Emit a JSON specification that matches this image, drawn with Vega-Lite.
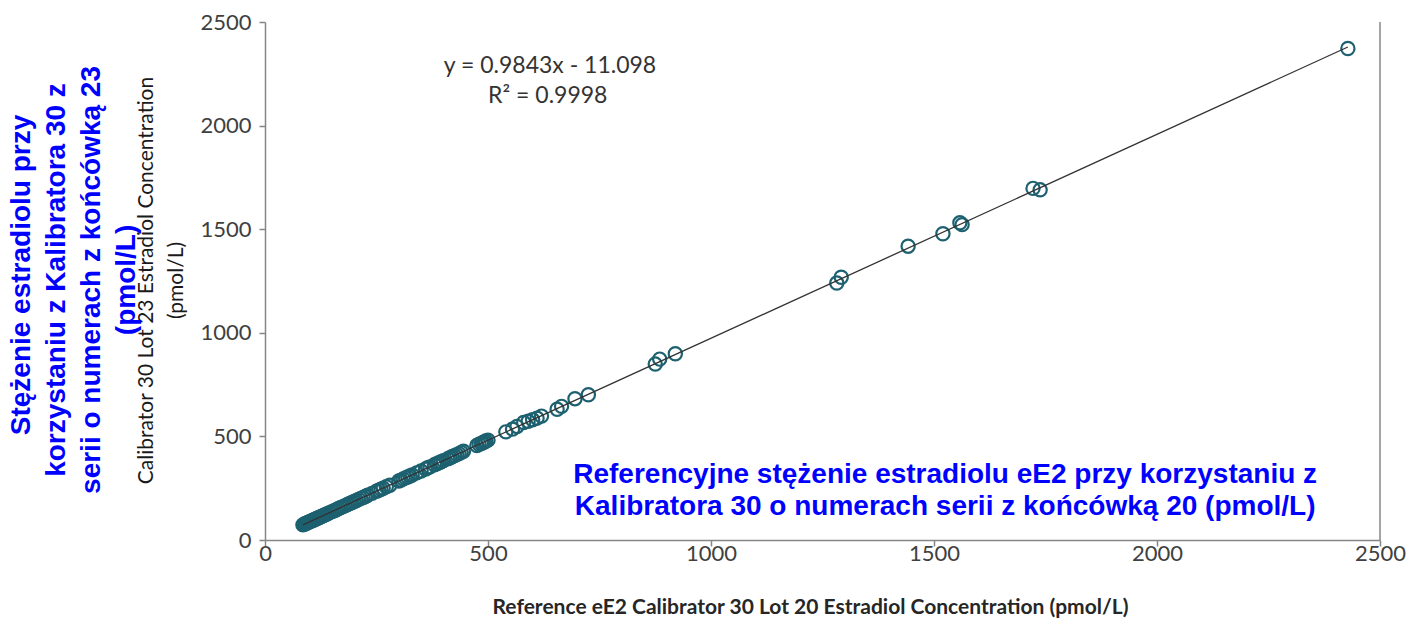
{
  "$schema": "https://vega.github.io/schema/vega-lite/v6.json",
  "width": 1115,
  "height": 518,
  "autosize": "none",
  "padding": {"left": 265, "top": 22, "right": 28, "bottom": 82},
  "background": "white",
  "config": {"view": {"stroke": null}},
  "datasets": {
    "pts": [
      {"ref": 85, "cal": 73}, {"ref": 88, "cal": 76}, {"ref": 90, "cal": 79}, {"ref": 92, "cal": 80},
      {"ref": 95, "cal": 83}, {"ref": 97, "cal": 85}, {"ref": 100, "cal": 88}, {"ref": 102, "cal": 90},
      {"ref": 105, "cal": 93}, {"ref": 108, "cal": 95}, {"ref": 110, "cal": 98}, {"ref": 113, "cal": 100},
      {"ref": 115, "cal": 103}, {"ref": 118, "cal": 105}, {"ref": 120, "cal": 108}, {"ref": 123, "cal": 110},
      {"ref": 126, "cal": 113}, {"ref": 130, "cal": 117}, {"ref": 133, "cal": 120}, {"ref": 136, "cal": 123},
      {"ref": 140, "cal": 127}, {"ref": 145, "cal": 132}, {"ref": 150, "cal": 137}, {"ref": 155, "cal": 141},
      {"ref": 160, "cal": 146}, {"ref": 165, "cal": 152}, {"ref": 170, "cal": 157}, {"ref": 175, "cal": 161},
      {"ref": 180, "cal": 166}, {"ref": 185, "cal": 171}, {"ref": 190, "cal": 176}, {"ref": 195, "cal": 181},
      {"ref": 200, "cal": 186}, {"ref": 205, "cal": 191}, {"ref": 210, "cal": 196}, {"ref": 215, "cal": 201},
      {"ref": 220, "cal": 205}, {"ref": 225, "cal": 210}, {"ref": 230, "cal": 216}, {"ref": 240, "cal": 225},
      {"ref": 250, "cal": 235}, {"ref": 255, "cal": 240}, {"ref": 260, "cal": 245}, {"ref": 265, "cal": 250},
      {"ref": 272, "cal": 257}, {"ref": 280, "cal": 264}, {"ref": 300, "cal": 285}, {"ref": 305, "cal": 289},
      {"ref": 310, "cal": 295}, {"ref": 315, "cal": 300}, {"ref": 320, "cal": 304}, {"ref": 325, "cal": 309},
      {"ref": 330, "cal": 314}, {"ref": 340, "cal": 324}, {"ref": 350, "cal": 333}, {"ref": 360, "cal": 343},
      {"ref": 365, "cal": 349}, {"ref": 370, "cal": 353}, {"ref": 380, "cal": 363}, {"ref": 385, "cal": 368},
      {"ref": 390, "cal": 373}, {"ref": 395, "cal": 378}, {"ref": 400, "cal": 383}, {"ref": 410, "cal": 392},
      {"ref": 415, "cal": 397}, {"ref": 420, "cal": 403}, {"ref": 425, "cal": 407}, {"ref": 430, "cal": 412},
      {"ref": 435, "cal": 417}, {"ref": 440, "cal": 423}, {"ref": 445, "cal": 428}, {"ref": 475, "cal": 456},
      {"ref": 480, "cal": 462}, {"ref": 485, "cal": 466}, {"ref": 488, "cal": 470}, {"ref": 492, "cal": 473},
      {"ref": 495, "cal": 478}, {"ref": 500, "cal": 482}, {"ref": 540, "cal": 522}, {"ref": 555, "cal": 535},
      {"ref": 565, "cal": 548}, {"ref": 580, "cal": 567}, {"ref": 590, "cal": 573}, {"ref": 600, "cal": 580},
      {"ref": 610, "cal": 588}, {"ref": 620, "cal": 598}, {"ref": 655, "cal": 631}, {"ref": 665, "cal": 645},
      {"ref": 695, "cal": 682}, {"ref": 725, "cal": 701}, {"ref": 875, "cal": 849}, {"ref": 885, "cal": 873},
      {"ref": 920, "cal": 899}, {"ref": 1282, "cal": 1240}, {"ref": 1292, "cal": 1268}, {"ref": 1442, "cal": 1418},
      {"ref": 1520, "cal": 1478}, {"ref": 1558, "cal": 1531}, {"ref": 1563, "cal": 1522}, {"ref": 1722, "cal": 1697},
      {"ref": 1738, "cal": 1690}, {"ref": 2428, "cal": 2372}
    ]
  },
  "layer": [
    {
      "data": {"name": "pts"},
      "mark": {"type": "point", "shape": "circle", "filled": false, "stroke": "#1d6170", "strokeWidth": 2.2, "size": 175, "opacity": 1},
      "encoding": {
        "x": {
          "field": "ref", "type": "quantitative",
          "scale": {"domain": [0, 2500], "nice": false, "zero": true},
          "axis": {
            "title": "Reference eE2 Calibrator 30 Lot 20 Estradiol Concentration (pmol/L)",
            "values": [0, 500, 1000, 1500, 2000, 2500],
            "format": "d",
            "grid": false,
            "domainColor": "#868686", "domainWidth": 1.5,
            "tickColor": "#868686", "tickWidth": 1.5, "tickSize": 6,
            "labelFont": "Lato", "labelFontSize": 22, "labelColor": "#404040", "labelPadding": -3,
            "labelFlush": false,
            "titleFont": "Lato", "titleFontSize": 21, "titleFontWeight": "bold", "titleColor": "#262626",
            "titleX": 545, "titleY": 67, "titleAlign": "center", "titleAnchor": null, "titleBaseline": "middle"
          }
        },
        "y": {
          "field": "cal", "type": "quantitative",
          "scale": {"domain": [0, 2500], "nice": false, "zero": true},
          "axis": {
            "title": ["Calibrator 30 Lot 23 Estradiol Concentration", "(pmol/L)"],
            "values": [0, 500, 1000, 1500, 2000, 2500],
            "format": "d",
            "grid": false,
            "domainColor": "#868686", "domainWidth": 1.5,
            "tickColor": "#868686", "tickWidth": 1.5, "tickSize": 6,
            "labelFont": "Lato", "labelFontSize": 22, "labelColor": "#404040", "labelPadding": 8,
            "labelFlush": false,
            "titleFont": "Lato", "titleFontSize": 21, "titleFontWeight": "normal", "titleColor": "#1a1a1a",
            "titleLineHeight": 30, "titleAngle": -90, "titleX": -119, "titleY": 258,
            "titleAlign": "center", "titleBaseline": "middle"
          }
        }
      }
    },
    {
      "data": {"name": "pts"},
      "transform": [{"regression": "cal", "on": "ref"}],
      "mark": {"type": "line", "color": "#333333", "strokeWidth": 1.3},
      "encoding": {
        "x": {"field": "ref", "type": "quantitative"},
        "y": {"field": "cal", "type": "quantitative"}
      }
    },
    {
      "data": {"values": [{}]},
      "mark": {"type": "rule", "color": "#868686", "strokeWidth": 1.5},
      "encoding": {"x": {"datum": 2500}}
    },
    {
      "data": {"values": [{"t": "y = 0.9843x - 11.098"}]},
      "mark": {"type": "text", "font": "Lato", "fontSize": 23, "color": "#333333", "align": "center", "baseline": "middle"},
      "encoding": {"x": {"datum": 639}, "y": {"datum": 2288}, "text": {"field": "t"}}
    },
    {
      "data": {"values": [{"t": "R² = 0.9998"}]},
      "mark": {"type": "text", "font": "Lato", "fontSize": 23, "color": "#333333", "align": "center", "baseline": "middle"},
      "encoding": {"x": {"datum": 634}, "y": {"datum": 2143}, "text": {"field": "t"}}
    },
    {
      "data": {"values": [{"t": "Referencyjne stężenie estradiolu eE2 przy korzystaniu z"}]},
      "mark": {"type": "text", "font": "Liberation Sans", "fontSize": 28, "fontWeight": "bold", "color": "#0000ff", "align": "center", "baseline": "middle"},
      "encoding": {"x": {"datum": 1525}, "y": {"datum": 314}, "text": {"field": "t"}}
    },
    {
      "data": {"values": [{"t": "Kalibratora 30 o numerach serii z końcówką 20 (pmol/L)"}]},
      "mark": {"type": "text", "font": "Liberation Sans", "fontSize": 28, "fontWeight": "bold", "color": "#0000ff", "align": "center", "baseline": "middle"},
      "encoding": {"x": {"datum": 1525}, "y": {"datum": 159}, "text": {"field": "t"}}
    },
    {
      "data": {"values": [{"t": "Stężenie estradiolu przy"}]},
      "mark": {"type": "text", "font": "Liberation Sans", "fontSize": 28, "fontWeight": "bold", "color": "#0000ff", "align": "center", "baseline": "middle", "angle": 270, "clip": false},
      "encoding": {"x": {"datum": -545}, "y": {"datum": 1279}, "text": {"field": "t"}}
    },
    {
      "data": {"values": [{"t": "korzystaniu z Kalibratora 30 z"}]},
      "mark": {"type": "text", "font": "Liberation Sans", "fontSize": 28, "fontWeight": "bold", "color": "#0000ff", "align": "center", "baseline": "middle", "angle": 270, "clip": false},
      "encoding": {"x": {"datum": -466}, "y": {"datum": 1255}, "text": {"field": "t"}}
    },
    {
      "data": {"values": [{"t": "serii o numerach z końcówką 23"}]},
      "mark": {"type": "text", "font": "Liberation Sans", "fontSize": 28, "fontWeight": "bold", "color": "#0000ff", "align": "center", "baseline": "middle", "angle": 270, "clip": false},
      "encoding": {"x": {"datum": -388}, "y": {"datum": 1255}, "text": {"field": "t"}}
    },
    {
      "data": {"values": [{"t": "(pmol/L)"}]},
      "mark": {"type": "text", "font": "Liberation Sans", "fontSize": 28, "fontWeight": "bold", "color": "#0000ff", "align": "center", "baseline": "middle", "angle": 270, "clip": false},
      "encoding": {"x": {"datum": -309}, "y": {"datum": 1255}, "text": {"field": "t"}}
    }
  ]
}
